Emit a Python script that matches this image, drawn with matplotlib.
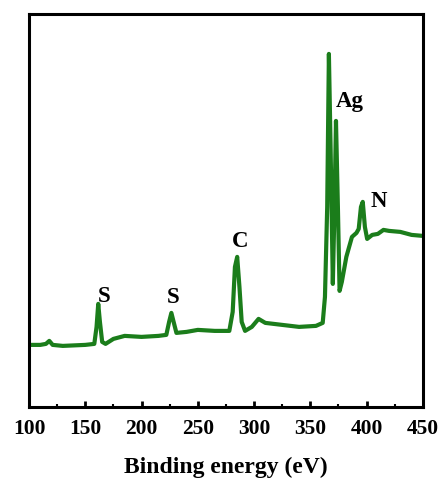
import matplotlib.pyplot as plt
from matplotlib.ticker import MultipleLocator

# binding energy (eV) and intensity (a.u.)
energy = [100, 110, 115, 118, 121, 130, 150, 158, 160, 161.5, 163, 165, 168,
          175, 185, 200, 215, 222, 224.5, 226.5, 228.5, 231, 240, 250, 265,
          278, 281, 283, 285, 287, 289, 292, 298, 304, 310, 325, 340, 355,
          361, 363, 365, 366.5, 368, 370, 371.5, 372.8, 374.5, 376, 378, 382,
          387, 391, 393, 395, 396.6, 398.5, 400.5, 405, 410, 415, 420, 430,
          440, 450]
intensity = [62, 62, 63, 66, 62, 61, 62, 63, 80, 103, 85, 65, 63,
             68, 71, 70, 71, 72, 85, 94, 85, 74, 75, 77, 76,
             76, 95, 140, 150, 120, 85, 76, 80, 88, 84, 82, 80, 81,
             84, 110, 200, 353, 260, 123, 200, 286, 200, 116, 125, 150,
             170, 174, 178, 200, 205, 180, 168, 172, 173, 177, 176, 175,
             172, 171]

# peak labels (baseline positions)
peak_names = ["S", "S", "C", "Ag", "N"]
peak_x = [166.5, 228.5, 288, 385.5, 411]
peak_y = [106, 105, 161, 301, 201]

plt.rcParams['font.family'] = ['Liberation Serif', 'DejaVu Serif']
plt.rcParams['font.weight'] = 'bold'

fig = plt.figure(figsize=(4.4, 4.81), dpi=100)
ax = fig.add_axes([0.066, 0.152, 0.895, 0.817])
ax.plot(energy, intensity, color='#1b7d1b', linewidth=3)

for name, x, y in zip(peak_names, peak_x, peak_y):
    ax.text(x, y, name, ha='center', va='baseline', fontsize=16.5,
            fontweight='bold')

ax.set_xlim(100, 450)
ax.set_ylim(0, 393)
ax.set_yticks([])
ax.xaxis.set_major_locator(MultipleLocator(50))
ax.xaxis.set_minor_locator(MultipleLocator(25))
ax.tick_params(axis='x', which='major', direction='in', length=4, width=2,
               labelsize=15.5, pad=8)
ax.tick_params(axis='x', which='minor', direction='in', length=2.5, width=1.5)
for lbl in ax.get_xticklabels():
    lbl.set_fontweight('bold')
for sp in ax.spines.values():
    sp.set_linewidth(2.2)
ax.set_xlabel('Binding energy (eV)', fontsize=17, fontweight='bold', labelpad=13)

fig.savefig('out.png', dpi=100)
